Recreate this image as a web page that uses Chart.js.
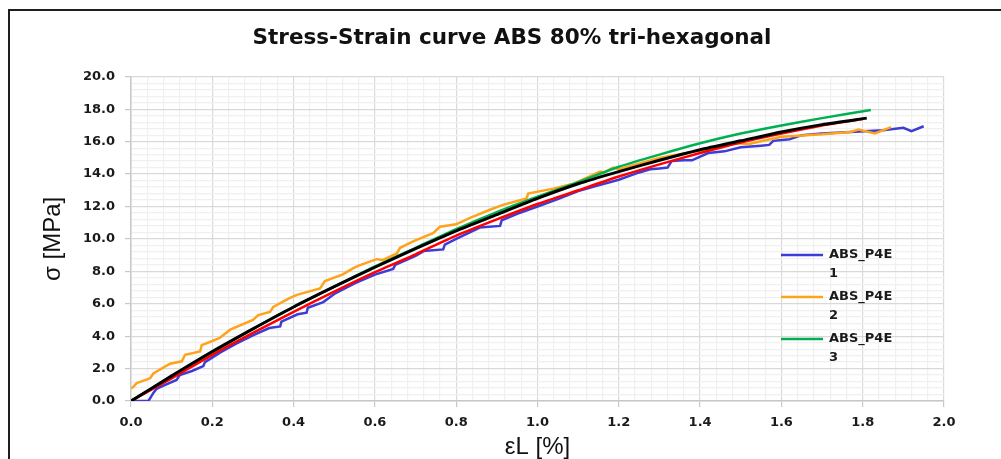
<!DOCTYPE html>
<html>
<head>
<meta charset="utf-8">
<script src="https://cdn.jsdelivr.net/npm/chart.js@4/dist/chart.umd.min.js"></script>
<style>
  html, body { margin: 0; padding: 0; background: #fff; }
  #wrap { position: relative; width: 1001px; height: 459px; overflow: hidden; }
  #frame { position: absolute; left: 8px; top: 9px; right: -5px; bottom: -5px;
           border-left: 2px solid #1e1e1e; border-top: 2px solid #1e1e1e; }
  #c { position: absolute; left: 0; top: 0; }
</style>
</head>
<body>
<div id="wrap">
  <div id="frame"></div>
  <canvas id="c" width="1001" height="459"></canvas>
</div>
<script>
// Datos (deformación en %, tensión en MPa)

const seriesNames = ['ABS_P4E 1', 'ABS_P4E 2', 'ABS_P4E 3', '', ''];

const blueX = [0, 0.043, 0.055, 0.063, 0.08, 0.112, 0.12, 0.15, 0.178, 0.182, 0.22, 0.26, 0.3, 0.34, 0.367, 0.37,
  0.41, 0.432, 0.435, 0.473, 0.5, 0.55, 0.6, 0.645, 0.65, 0.7, 0.72, 0.768, 0.772, 0.8, 0.858, 0.908, 0.912,
  0.95, 1.0, 1.05, 1.1, 1.15, 1.2, 1.25, 1.277, 1.3, 1.32, 1.33, 1.36, 1.38, 1.42, 1.46, 1.5, 1.55, 1.57,
  1.58, 1.62, 1.65, 1.7, 1.77, 1.85, 1.9, 1.92, 1.95];
const blueY = [0, 0, 0.5, 0.75, 0.95, 1.3, 1.6, 1.85, 2.15, 2.4, 3.0, 3.55, 4.05, 4.5, 4.6, 4.9,
  5.35, 5.45, 5.75, 6.1, 6.6, 7.25, 7.8, 8.15, 8.4, 8.95, 9.25, 9.35, 9.65, 10.0, 10.7, 10.8, 11.15,
  11.55, 12.0, 12.45, 12.95, 13.3, 13.65, 14.1, 14.3, 14.35, 14.4, 14.8, 14.85, 14.85, 15.3, 15.4, 15.65, 15.75, 15.8,
  16.05, 16.15, 16.4, 16.5, 16.6, 16.7, 16.85, 16.65, 16.95];

const orangeX = [0, 0.005, 0.014, 0.047, 0.055, 0.096, 0.125, 0.133, 0.17, 0.174, 0.2, 0.219, 0.244, 0.3, 0.313,
  0.342, 0.35, 0.39, 0.408, 0.465, 0.477, 0.52, 0.547, 0.56, 0.604, 0.62, 0.654, 0.662, 0.694, 0.743, 0.76,
  0.8, 0.834, 0.883, 0.915, 0.973, 0.977, 1.039, 1.088, 1.154, 1.165, 1.186, 1.2, 1.3, 1.4, 1.44, 1.49, 1.52,
  1.6, 1.7, 1.77, 1.79, 1.83, 1.87];
const orangeY = [0.8, 0.85, 1.1, 1.4, 1.7, 2.3, 2.45, 2.85, 3.05, 3.45, 3.7, 3.9, 4.4, 5.0, 5.3,
  5.5, 5.8, 6.35, 6.55, 6.95, 7.4, 7.8, 8.2, 8.35, 8.75, 8.7, 9.1, 9.45, 9.85, 10.35, 10.75,
  10.9, 11.3, 11.8, 12.1, 12.5, 12.8, 13.1, 13.4, 14.15, 14.1, 14.4, 14.3, 15.0, 15.45, 15.6, 15.9, 15.85,
  16.3, 16.45, 16.6, 16.75, 16.5, 16.9];

const greenX = [0, 0.1, 0.2, 0.3, 0.4, 0.5, 0.6, 0.7, 0.8, 0.9, 1.0, 1.1, 1.2, 1.3, 1.4, 1.5, 1.6, 1.7, 1.82];
const greenY = [0, 1.5, 3.0, 4.45, 5.8, 7.05, 8.3, 9.45, 10.6, 11.65, 12.6, 13.5, 14.45, 15.2, 15.9, 16.5, 17.0, 17.45, 17.95];

const redX = [0, 0.1, 0.2, 0.3, 0.4, 0.5, 0.6, 0.7, 0.8, 0.9, 1.0, 1.1, 1.2, 1.3, 1.4, 1.5, 1.6, 1.7, 1.8];
const redY = [0, 1.4, 2.85, 4.2, 5.5, 6.75, 7.95, 9.05, 10.2, 11.2, 12.15, 13.0, 13.85, 14.6, 15.3, 15.95, 16.5, 17.0, 17.4];

const blackX = [0, 0.1, 0.2, 0.3, 0.4, 0.5, 0.6, 0.7, 0.8, 0.9, 1.0, 1.1, 1.2, 1.3, 1.4, 1.5, 1.6, 1.7, 1.81];
const blackY = [0, 1.55, 3.05, 4.45, 5.8, 7.05, 8.25, 9.4, 10.5, 11.5, 12.5, 13.4, 14.15, 14.85, 15.5, 16.05, 16.6, 17.05, 17.45];

const xMin = 0, xMax = 2.0, xMajor = 0.2, xMinor = 0.04;
const yMin = 0, yMax = 20.0, yMajor = 2.0, yMinor = 0.4;

const colores = ['#3c3cd6', '#ffa31a', '#00b050', '#ff0000', '#000000'];

function pares(xs, ys) {
    return xs.map((x, i) => ({ x: x, y: ys[i] }));
}

const tickFont = { family: 'DejaVu Sans', size: 13, weight: 'bold' };
const GRID_MAJOR = '#d9d9d9';
const GRID_MINOR = '#f0f0f0';

// Centrar el título sobre toda la figura y no sólo sobre el área de layout
const tituloPlugin = {
    id: 'tituloCentrado',
    afterLayout(chart) {
        const t = chart.titleBlock;
        if (t) { t.left = 20; t.right = 1004; }
    }
};

// Leyenda dibujada dentro del área del gráfico (texto en dos líneas)
const leyendaPlugin = {
    id: 'leyendaInterna',
    afterDraw(chart) {
        const ctx = chart.ctx;
        ctx.save();
        ctx.font = 'bold 13px "DejaVu Sans"';
        ctx.textBaseline = 'middle';
        ctx.fillStyle = '#1a1a1a';
        let y = 255;
        chart.data.datasets.forEach(ds => {
            if (!ds.label) return;
            ctx.strokeStyle = ds.borderColor;
            ctx.lineWidth = 2.5;
            ctx.beginPath();
            ctx.moveTo(781, y);
            ctx.lineTo(823, y);
            ctx.stroke();
            const partes = ds.label.split(' ');
            ctx.fillText(partes[0], 829, y);
            ctx.fillText(partes[1], 829, y + 19);
            y += 42;
        });
        ctx.restore();
    }
};

const datasets = [
    { label: seriesNames[0], data: pares(blueX, blueY), borderColor: colores[0], order: 4, tension: 0 },
    { label: seriesNames[1], data: pares(orangeX, orangeY), borderColor: colores[1], order: 3, tension: 0 },
    { label: seriesNames[2], data: pares(greenX, greenY), borderColor: colores[2], order: 2 },
    { label: seriesNames[3], data: pares(redX, redY), borderColor: colores[3], order: 1 },
    { label: seriesNames[4], data: pares(blackX, blackY), borderColor: colores[4], order: 0, borderWidth: 3 }
].map(d => Object.assign({ borderWidth: 2.5, pointRadius: 0, tension: 0.2, fill: false }, d));

new Chart(document.getElementById('c'), {
    type: 'line',
    data: { datasets: datasets },
    plugins: [tituloPlugin, leyendaPlugin],
    options: {
        responsive: false,
        animation: false,
        devicePixelRatio: 1,
        layout: { padding: { left: 20, right: 57, top: 0, bottom: 0 } },
        plugins: {
            legend: { display: false },
            tooltip: { enabled: false },
            title: {
                display: true,
                text: 'Stress-Strain curve ABS 80% tri-hexagonal',
                color: '#111',
                font: { family: 'DejaVu Sans', size: 21.5, weight: 'bold', lineHeight: 1.2 },
                padding: { top: 26, bottom: 25 }
            }
        },
        scales: {
            x: {
                type: 'linear',
                min: xMin,
                max: xMax,
                afterFit: s => { s.height = 58; },
                ticks: {
                    stepSize: xMinor,
                    autoSkip: false,
                    maxRotation: 0,
                    padding: 8,
                    color: '#1a1a1a',
                    font: tickFont,
                    callback: (v, i) => (i % Math.round(xMajor / xMinor) === 0 ? v.toFixed(1) : '')
                },
                grid: {
                    color: c => (c.index % Math.round(xMajor / xMinor) === 0 ? GRID_MAJOR : GRID_MINOR),
                    tickColor: c => (c.index % Math.round(xMajor / xMinor) === 0 ? '#c8c8c8' : 'rgba(0,0,0,0)'),
                    tickLength: 6,
                    lineWidth: 1.2
                },
                border: { color: '#c8c8c8', width: 1.5 },
                title: {
                    display: true,
                    text: 'εL [%]',
                    color: '#111',
                    font: { family: 'Liberation Sans', size: 24, lineHeight: 1 },
                    padding: { top: 0, bottom: 0 }
                }
            },
            y: {
                min: yMin,
                max: yMax,
                afterFit: s => { s.width = 111; },
                ticks: {
                    stepSize: yMinor,
                    autoSkip: false,
                    padding: 10,
                    color: '#1a1a1a',
                    font: tickFont,
                    callback: (v, i) => (i % Math.round(yMajor / yMinor) === 0 ? v.toFixed(1) : '')
                },
                grid: {
                    color: c => (c.index % Math.round(yMajor / yMinor) === 0 ? GRID_MAJOR : GRID_MINOR),
                    tickColor: c => (c.index % Math.round(yMajor / yMinor) === 0 ? '#c8c8c8' : 'rgba(0,0,0,0)'),
                    tickLength: 6,
                    lineWidth: 1.2
                },
                border: { color: '#c8c8c8', width: 1.5 },
                title: {
                    display: true,
                    text: 'σ [MPa]',
                    color: '#111',
                    font: { family: 'Liberation Sans', size: 24, lineHeight: 1.2 },
                    padding: { top: 19, bottom: 0 }
                }
            }
        }
    }
});
</script>
</body>
</html>
